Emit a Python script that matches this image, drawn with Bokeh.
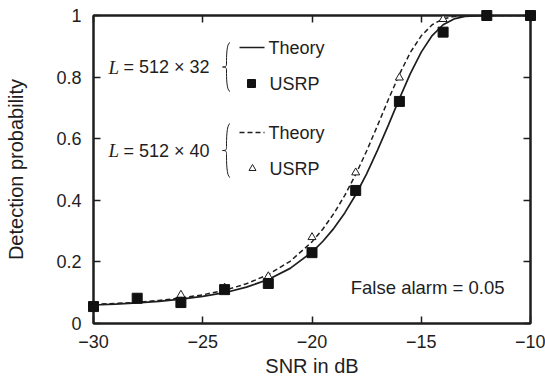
import math
from bokeh.plotting import figure
from bokeh.models import FixedTicker, LinearAxis, Label, Range1d
from bokeh.embed import file_html
from bokeh.resources import INLINE

# ---------------- data ----------------
snr_theory = [-30, -29, -28, -27, -26, -25, -24, -23, -22, -21, -20, -19.5, -19, -18.5,
              -18, -17.5, -17, -16.5, -16, -15.5, -15, -14.5, -14, -13.5, -13, -12.5,
              -12, -11, -10]
pd_theory_32 = [0.060, 0.063, 0.067, 0.072, 0.079, 0.088, 0.100, 0.118, 0.143, 0.179,
                0.232, 0.267, 0.309, 0.359, 0.418, 0.486, 0.563, 0.645, 0.730, 0.811,
                0.881, 0.935, 0.970, 0.989, 0.997, 0.999, 1.0, 1.0, 1.0]
pd_theory_40 = [0.062, 0.065, 0.069, 0.075, 0.083, 0.093, 0.108, 0.129, 0.159, 0.202,
                0.265, 0.307, 0.357, 0.416, 0.484, 0.560, 0.643, 0.728, 0.809, 0.880,
                0.934, 0.970, 0.989, 0.997, 0.999, 1.0, 1.0, 1.0, 1.0]

snr_usrp = [-30, -28, -26, -24, -22, -20, -18, -16, -14, -12, -10]
pd_usrp_32 = [0.055, 0.082, 0.068, 0.110, 0.130, 0.230, 0.432, 0.721, 0.946, 1.0, 1.0]
pd_usrp_40 = [0.058, 0.081, 0.093, 0.116, 0.153, 0.280, 0.490, 0.798, 0.988, 1.0, 1.0]

x_ticks = [-30, -25, -20, -15, -10]
x_tick_labels = ["\u221230", "\u221225", "\u221220", "\u221215", "\u221210"]
y_ticks = [0, 0.2, 0.4, 0.6, 0.8, 1]
y_tick_labels = ["0", "0.2", "0.4", "0.6", "0.8", "1"]

x_label = "SNR in dB"
y_label = "Detection probability"
group_labels = ["= 512 \u00d7 32", "= 512 \u00d7 40"]
series_names = ["Theory", "USRP"]
note = "False alarm = 0.05"

# ---------------- layout ----------------
W, H = 545, 382
FL, FR, FT, FB = 93, 530, 15, 323
X0, X1, Y0, Y1 = -30.0, -10.0, 0.0, 1.0
FONT = "Liberation Sans"
INK = "#1e1e1e"
FS = "18px"


def px2x(px):
    return X0 + (px - FL) * (X1 - X0) / (FR - FL)


def px2y(py):
    return Y0 + (FB - py) * (Y1 - Y0) / (FB - FT)


p = figure(width=W, height=H, x_range=Range1d(X0, X1), y_range=Range1d(Y0, Y1),
           output_backend="svg", toolbar_location=None,
           min_border_left=FL, min_border_right=W - FR,
           min_border_top=FT, min_border_bottom=H - FB)
p.xgrid.visible = False
p.ygrid.visible = False
p.outline_line_color = INK
p.outline_line_width = 2
p.background_fill_color = "white"
p.border_fill_color = "white"


def style_axis(ax, ticks, labels, show_labels, standoff=10):
    ax.ticker = FixedTicker(ticks=ticks)
    ax.major_label_overrides = {t: l for t, l in zip(ticks, labels)}
    ax.major_tick_in = 7
    ax.major_tick_out = 0
    ax.minor_tick_in = 0
    ax.minor_tick_out = 0
    ax.axis_line_color = INK
    ax.axis_line_width = 2
    ax.major_tick_line_color = INK
    ax.major_tick_line_width = 1.5
    ax.major_label_text_font = FONT
    ax.major_label_text_color = INK
    ax.major_label_standoff = standoff
    ax.major_label_text_font_size = FS if show_labels else "0px"
    ax.axis_label_text_font = FONT
    ax.axis_label_text_font_size = "20px"
    ax.axis_label_text_font_style = "normal"
    ax.axis_label_text_color = INK


xa = p.xaxis[0]
ya = p.yaxis[0]
style_axis(xa, x_ticks, x_tick_labels, True, standoff=11)
style_axis(ya, y_ticks, y_tick_labels, True, standoff=12)
xa.axis_label = x_label
xa.axis_label_standoff = 4
ya.axis_label = y_label
ya.axis_label_standoff = 26

top_ax = LinearAxis()
right_ax = LinearAxis()
style_axis(top_ax, x_ticks, ["" for _ in x_ticks], False, standoff=0)
style_axis(right_ax, y_ticks, ["" for _ in y_ticks], False, standoff=0)
p.add_layout(top_ax, "above")
p.add_layout(right_ax, "right")

# ---------------- curves and points ----------------
p.line(snr_theory, pd_theory_40, line_color=INK, line_width=1.5, line_dash="5 3")
p.line(snr_theory, pd_theory_32, line_color=INK, line_width=1.7)
p.scatter(snr_usrp, pd_usrp_40, marker="triangle", size=8, fill_color="white",
          line_color=INK, line_width=1, level="overlay")
p.scatter(snr_usrp, pd_usrp_32, marker="square", size=10, fill_color="#111111",
          line_color="#111111", level="overlay")

# ---------------- legend (custom) ----------------
text_kw = dict(text_font=FONT, text_font_size=FS, text_color=INK,
               text_baseline="middle")

groups = [
    dict(y_theory=47, y_usrp=83, top=42, bottom=91, label=group_labels[0],
         dash="solid", marker="square"),
    dict(y_theory=132, y_usrp=168, top=123, bottom=177, label=group_labels[1],
         dash="5 3", marker="triangle"),
]

for g in groups:
    # sample line
    p.line([px2x(239), px2x(264)], [px2y(g["y_theory"])] * 2, line_color=INK,
           line_width=1.6, line_dash=g["dash"])
    # sample marker
    if g["marker"] == "square":
        p.scatter([px2x(251)], [px2y(g["y_usrp"])], marker="square", size=8,
                  fill_color="#111111", line_color="#111111")
    else:
        p.scatter([px2x(252)], [px2y(g["y_usrp"])], marker="triangle", size=7,
                  fill_color="white", line_color=INK, line_width=1)
    p.add_layout(Label(x=px2x(268), y=px2y(g["y_theory"]), text=series_names[0], **text_kw))
    p.add_layout(Label(x=px2x(269), y=px2y(g["y_usrp"]), text=series_names[1], **text_kw))
    mid = (g["top"] + g["bottom"]) / 2.0
    # group label: italic serif L + sans rest
    p.add_layout(Label(x=px2x(108), y=px2y(mid), text="L", text_font="Liberation Serif",
                       text_font_style="italic", text_font_size="19px", text_color=INK,
                       text_baseline="middle"))
    p.add_layout(Label(x=px2x(123), y=px2y(mid), text=g["label"], **text_kw))
    # curly brace
    xr, xm, xt = px2x(229.5), px2x(226.0), px2x(222.0)
    top, bot, ym = px2y(g["top"]), px2y(g["bottom"]), px2y(mid)
    d1 = px2y(0) - px2y(1)
    d4, d10 = 4 * d1, 10 * d1
    p.bezier(x0=[xr, xm, xt, xm], y0=[top, ym + d4, ym, ym - d4],
             x1=[xm, xt, xm, xr], y1=[ym + d4, ym, ym - d4, bot],
             cx0=[xm, xm, xm, xm], cy0=[top - d1, ym + d1, ym, ym - d10],
             cx1=[xm, xm, xm, xm], cy1=[ym + d10, ym, ym - d1, bot + d1],
             line_color=INK, line_width=1)

p.add_layout(Label(x=px2x(504), y=px2y(287), text=note, text_align="right",
                   text_font=FONT, text_font_size="18.5px", text_color=INK,
                   text_baseline="middle"))

open("out.html", "w").write(file_html(p, INLINE))
